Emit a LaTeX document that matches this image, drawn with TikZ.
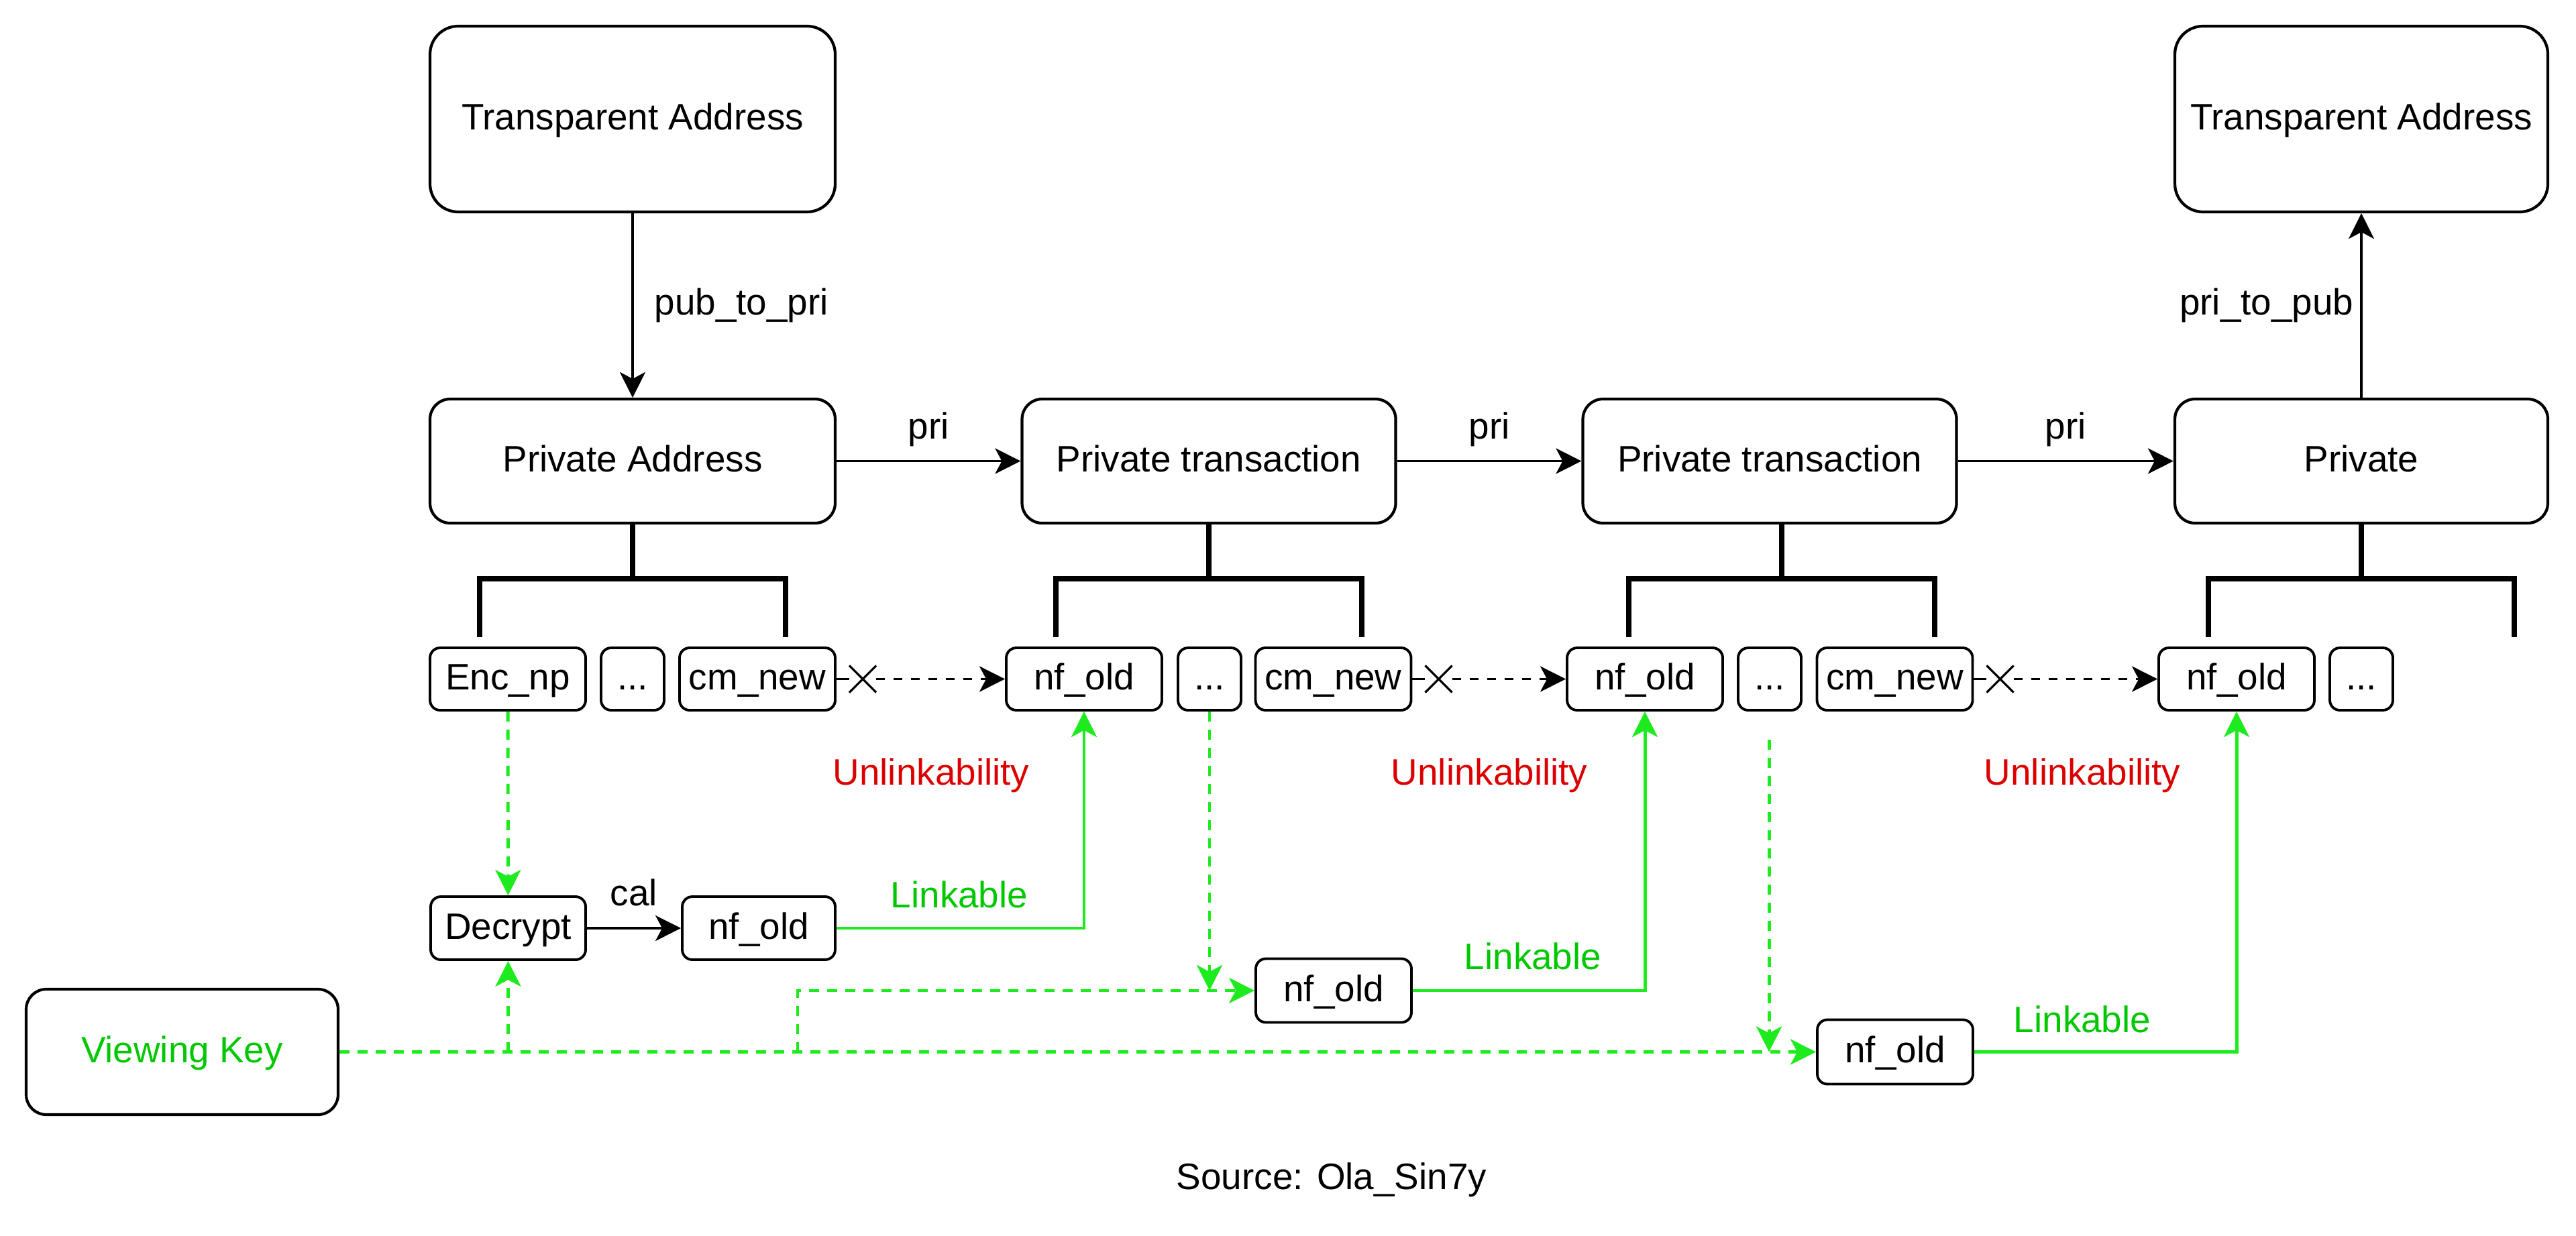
\documentclass[tikz,border=0pt]{standalone}
\usepackage{fontspec}
\setmainfont{Liberation Sans}
\usetikzlibrary{arrows.meta, positioning, shapes.misc}
\definecolor{linkgreen}{RGB}{30,235,30}
\definecolor{keygreen}{RGB}{0,200,0}
\definecolor{unlinkred}{RGB}{220,0,0}

\begin{document}
\begin{tikzpicture}[
    font=\fontsize{15.6}{18}\selectfont,
    addr/.style={draw, line width=1.2pt, rounded corners=0.3cm, minimum width=5.57cm, minimum height=1.85cm, inner sep=0pt, text height=0.44cm, text depth=0.12cm},
    field/.style={draw, line width=1.1pt, rounded corners=0.15cm, minimum width=2.32cm, minimum height=0.93cm, inner sep=0pt, text height=0.44cm, text depth=0.12cm},
    dots/.style={field, minimum width=0.94cm},
    flow/.style={-{Stealth[length=0.38cm, width=0.38cm, inset=0.1cm]}, line width=1pt},
    hidden/.style={flow, dash pattern=on 0.13cm off 0.13cm},
    link/.style={flow, linkgreen, line width=1.4pt},
    view/.style={link, dash pattern=on 0.15cm off 0.12cm},
    brace/.style={line width=2.3pt},
    cross/.style={cross out, draw, line width=0.9pt, minimum size=0.37cm, inner sep=0pt},
    txt/.style={inner sep=0pt}
]
    \useasboundingbox (0,0) rectangle (38.4,-18.42);

    % Addresses and transactions
    \node[addr, rounded corners=0.42cm, minimum width=6.04cm, minimum height=2.77cm] (pub1) at (9.43,-1.775) {Transparent Address};
    \node[addr, rounded corners=0.42cm, minimum width=5.56cm, minimum height=2.77cm] (pub2) at (35.20,-1.775) {Transparent Address};
    \node[addr, minimum width=6.04cm] (pa) at (9.43,-6.875) {Private Address};
    \node[addr] (pt1) at (18.02,-6.875) {Private transaction};
    \node[addr] (pt2) at (26.38,-6.875) {Private transaction};
    \node[addr, minimum width=5.56cm] (pv) at (35.20,-6.875) {Private};

    % Fields
    \node[field] (enc) at (7.57,-10.125) {Enc\_np};
    \node[dots] (dots1) at (9.43,-10.125) {...};
    \node[field] (cm1) at (11.29,-10.125) {cm\_new};
    \node[field] (nf1) at (16.16,-10.125) {nf\_old};
    \node[dots] (dots2) at (18.03,-10.125) {...};
    \node[field] (cm2) at (19.875,-10.125) {cm\_new};
    \node[field] (nf2) at (24.52,-10.125) {nf\_old};
    \node[dots] (dots3) at (26.38,-10.125) {...};
    \node[field] (cm3) at (28.245,-10.125) {cm\_new};
    \node[field] (nf3) at (33.34,-10.125) {nf\_old};
    \node[dots] (dots4) at (35.20,-10.125) {...};

    % Crosses
    \node[cross, right=0.19cm of cm1] (x1) {};
    \node[cross, right=0.19cm of cm2] (x2) {};
    \node[cross, right=0.19cm of cm3] (x3) {};

    % Viewing side
    \node[field, minimum width=2.31cm, minimum height=0.94cm] (dec) at (7.575,-13.84) {Decrypt};
    \node[field, minimum width=2.28cm, minimum height=0.94cm] (nfd) at (11.31,-13.84) {nf\_old};
    \node[field, minimum height=0.95cm] (nfa) at (19.88,-14.77) {nf\_old};
    \node[field, minimum height=0.96cm] (nfb) at (28.25,-15.685) {nf\_old};
    \node[addr, minimum width=4.65cm, minimum height=1.87cm, text=keygreen] (vk) at (2.715,-15.685) {Viewing Key};

    % Main flow
    \draw[flow] (pub1) -- (pa) node[midway, right=0.31cm, txt] {pub\_to\_pri};
    \draw[flow] (pa) -- (pt1) node[midway, above=0.2cm, txt] {pri};
    \draw[flow] (pt1) -- (pt2) node[midway, above=0.2cm, txt] {pri};
    \draw[flow] (pt2) -- (pv) node[midway, above=0.2cm, txt] {pri};
    \draw[flow] (pv) -- (pub2) node[midway, left=0.1cm, txt] {pri\_to\_pub};

    % Brackets
    \foreach \n/\s in {pa/0, pt1/0, pt2/0.18, pv/0}
        \draw[brace] ([xshift=\s cm]\n.south) -- ++(0,-0.81) ++(-2.28,-0.87) -- ++(0,0.87) -- ++(4.56,0) -- ++(0,-0.87);

    % Hidden links
    \foreach \a/\b/\c in {cm1/x1/nf1, cm2/x2/nf2, cm3/x3/nf3} {
        \draw[line width=1pt] (\a) -- (\b);
        \draw[hidden] (\b) -- (\c);
    }

    % Viewing key paths
    \coordinate (gap3) at (26.37,-11.03);
    \coordinate (split) at (11.89,-15.685);
    \draw[view] (enc) -- (dec);
    \draw[flow] (dec) -- (nfd) node[midway, above=0.31cm, txt] {cal};
    \draw[view] (vk) -- (nfb);
    \draw[view] (vk -| dec) -- (dec);
    \draw[view] (split) |- (nfa);
    \draw[view] (dots2) -- (dots2 |- nfa);
    \draw[view] (gap3) -- (gap3 |- nfb);
    \draw[link] (nfd) -| (nf1);
    \draw[link] (nfa) -| (nf2);
    \draw[link] (nfb) -| (nf3);

    % Labels
    \node[txt, text=unlinkred, anchor=base] (u1) at (13.88,-11.70) {Unlinkability};
    \node[txt, text=unlinkred, anchor=base] (u2) at (22.20,-11.70) {Unlinkability};
    \node[txt, text=unlinkred, anchor=base] (u3) at (31.04,-11.70) {Unlinkability};
    \node[txt, text=keygreen, anchor=base] (l1) at (14.30,-13.53) {Linkable};
    \node[txt, text=keygreen, anchor=base] (l2) at (22.85,-14.45) {Linkable};
    \node[txt, text=keygreen, anchor=base] (l3) at (31.04,-15.39) {Linkable};
    \node[txt, anchor=base] (src) at (19.85,-17.73) {Source: Ola\_Sin7y};
\end{tikzpicture}
\end{document}
